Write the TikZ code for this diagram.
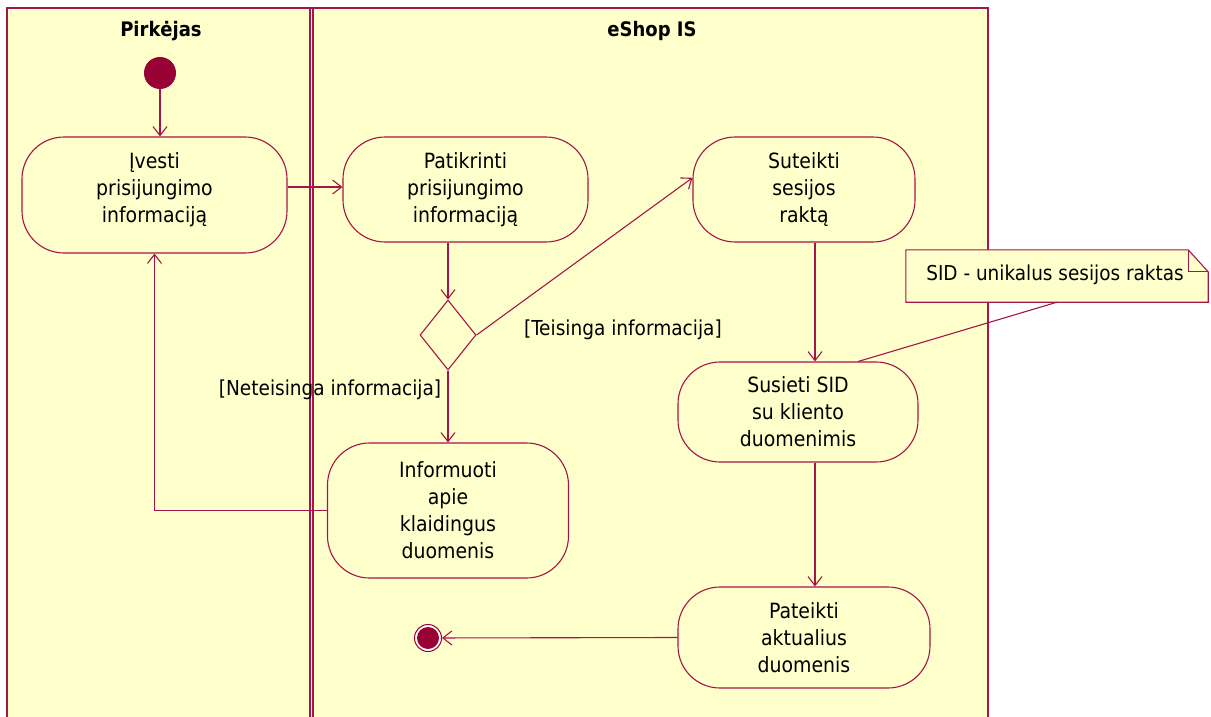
\documentclass[tikz,border=0pt]{standalone}
\usepackage{fontspec}
\setmainfont{DejaVu Sans Condensed}
\usetikzlibrary{shapes.geometric,arrows.meta}

\definecolor{umlline}{RGB}{165,20,75}
\definecolor{umlfill}{RGB}{255,255,204}
\definecolor{umldot}{RGB}{153,0,51}

\tikzset{
  lane/.style={draw=umlline, line width=1.1pt},
  act/.style={draw=umlline, fill=umlfill, line width=1.1pt, rectangle,
    rounded corners=42pt, align=center, inner sep=0pt,
    font=\fontsize{21}{27}\selectfont},
  decision/.style={draw=umlline, fill=umlfill, line width=1.1pt, diamond,
    inner sep=0pt, minimum width=56pt, minimum height=70pt},
  startdot/.style={circle, fill=umldot, inner sep=0pt, minimum size=32pt},
  enddot/.style={circle, draw=umldot, fill=white, line width=1pt, inner sep=0pt,
    minimum size=27pt, path picture={\fill[umldot] (path picture bounding box.center) circle (11pt);}},
  flow/.style={draw=umlline, line width=1.1pt, -{Straight Barb[length=9pt,width=14pt,line width=1.1pt]}},
  plain/.style={draw=umlline, line width=1.1pt},
  guard/.style={font=\fontsize{20.6}{25}\selectfont, inner sep=0pt},
  lanetitle/.style={font=\bfseries\fontsize{20}{24}\selectfont, inner sep=0pt},
  notebox/.style={font=\fontsize{20.5}{25}\selectfont, inner sep=0pt,
    minimum width=302pt, minimum height=52pt}
}

\begin{document}
\begin{tikzpicture}[x=1pt,y=-1pt]
  \useasboundingbox (0,0) rectangle (1211,717);
  \fill[white] (0,0) rectangle (1211,717);

  % swimlanes
  \fill[umlfill] (7,8) rectangle (988,717);
  \draw[lane] (7,717) -- (7,8) -- (988,8) -- (988,717);
  \draw[lane] (310,8) -- (310,717);
  \draw[lane] (313,8) -- (313,717);
  \node[lanetitle] (t1) at (161,31) {Pirkėjas};
  \node[lanetitle] (t2) at (652,31) {eShop IS};

  % nodes
  \node[startdot] (init) at (160,73) {};
  \node[act, minimum width=265pt, minimum height=116pt, text depth=14pt] (a1) at (154.5,195)
    {Įvesti\\prisijungimo\\informaciją};
  \node[act, minimum width=245pt, minimum height=105pt] (a2) at (465.5,189.5)
    {Patikrinti\\prisijungimo\\informaciją};
  \node[act, minimum width=222pt, minimum height=105pt] (a3) at (804,189.5)
    {Suteikti\\sesijos\\raktą};
  \node[decision] (d) at (448,335) {};
  \node[act, minimum width=241pt, minimum height=135pt] (a4) at (448,510.5)
    {Informuoti\\apie\\klaidingus\\duomenis};
  \node[act, minimum width=240pt, minimum height=100pt] (a5) at (798,412)
    {Susieti SID\\su kliento\\duomenimis};
  \node[act, minimum width=252pt, minimum height=101pt] (a6) at (804,637.5)
    {Pateikti\\aktualius\\duomenis};
  \node[enddot] (fin) at (428,638) {};

  % note with folded corner
  \node[notebox] (note) at (1057,276) {};
  \fill[umlfill] (note.south west) -- (note.north west) -- ([xshift=-20pt]note.north east)
    -- ([yshift=-22pt]note.north east) -- (note.south east) -- cycle;
  \draw[plain] (note.south west) -- (note.north west) -- ([xshift=-20pt]note.north east)
    -- ([yshift=-22pt]note.north east) -- (note.south east) -- cycle;
  \draw[plain] ([xshift=-20pt]note.north east) |- ([yshift=-22pt]note.north east);
  \node[notebox, minimum width=0pt] (notetext) at (1055,275) {SID - unikalus sesijos raktas};

  % guards
  \node[guard] (g1) at (330,390) {[Neteisinga informacija]};
  \node[guard] (g2) at (623,330) {[Teisinga informacija]};

  % flows
  \coordinate (col) at (815,0);
  \draw[flow] (init) -- (init |- a1.north);
  \draw[flow] (a1.east |- 0,187) -- (a2.west |- 0,187);
  \draw[flow] (a2.south -| d) -- (d.north);
  \draw[flow] (d.east) -- (a3.174);
  \draw[flow] (d.south) -- (a4.north);
  \draw[flow] (a4.west) -| (a1.south);
  \draw[flow] (a3.south -| col) -- (a5.north -| col);
  \draw[flow] (a5.south -| col) -- (a6.north -| col);
  \draw[flow] (a6.west) -- (fin);
  \draw[plain] (note.south) -- (a5.40);
\end{tikzpicture}
\end{document}
